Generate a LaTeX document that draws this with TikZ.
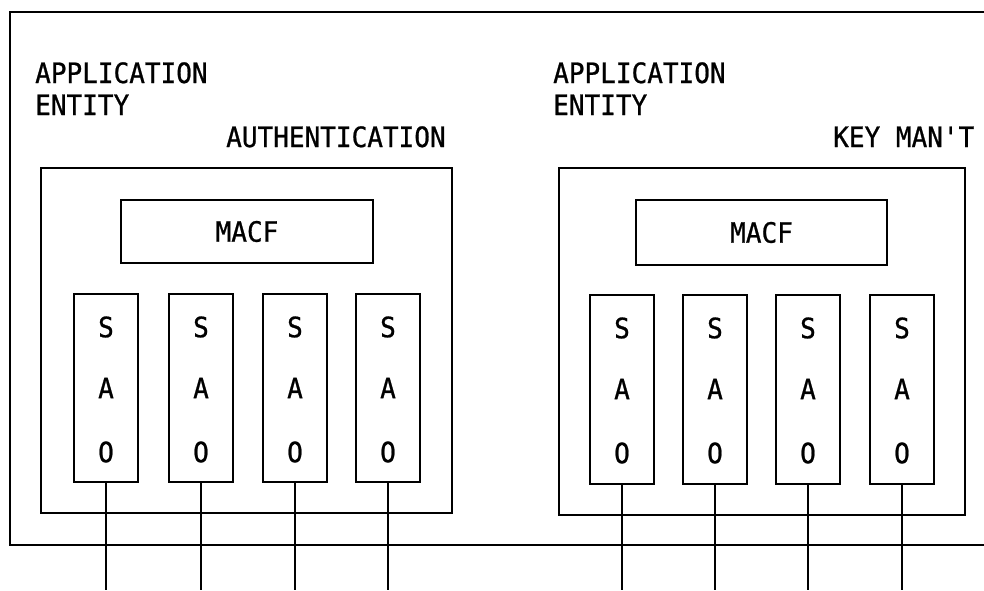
\documentclass[tikz,border=0pt]{standalone}
\usepackage{fontspec}
\setmonofont[FakeStretch=0.93,FakeBold=0.8]{DejaVu Sans Mono}
\begin{document}
\begin{tikzpicture}[x=1pt,y=-1pt,
  lw/.style={line width=2.8pt},
  boxa/.style={draw,lw,inner sep=0pt},
  lbl/.style={font=\ttfamily\fontsize{28}{28}\selectfont,inner sep=0pt,anchor=base west},
  ltr/.style={font=\ttfamily\fontsize{28}{28}\selectfont,inner sep=0pt},
  wire/.style={lw}]
\useasboundingbox (0,0) rectangle (984,590);
% outer frame
\coordinate (otr) at (984,12);
\coordinate (otl) at (10,12);
\coordinate (obl) at (10,545);
\coordinate (obr) at (984,545);
\draw[lw] (otr) -- (otl) -- (obl) -- (obr);
% labels
\node[lbl] (app1) at (35,83) {APPLICATION};
\node[lbl] (ent1) at (35,115) {ENTITY};
\node[lbl] (auth) at (226,147) {AUTHENTICATION};
\node[lbl] (app2) at (553,83) {APPLICATION};
\node[lbl] (ent2) at (553,115) {ENTITY};
\node[lbl] (key) at (833,147) {KEY MAN'T};
% inner boxes
\node[boxa,minimum width=411pt,minimum height=345pt] (ib1) at (246.5,340.5) {};
\node[boxa,minimum width=406pt,minimum height=347pt] (ib2) at (762,341.5) {};
% MACF
\node[boxa,minimum width=252pt,minimum height=63pt,ltr] (m1) at (247,231.5) {MACF};
\node[boxa,minimum width=251pt,minimum height=65pt,ltr] (m2) at (761.5,232.5) {MACF};
% SAO boxes
\foreach \i/\x in {1/106,2/201,3/295,4/388}{
  \node[boxa,minimum width=64pt,minimum height=188pt] (sl\i) at (\x,388) {};
  \node[ltr] (sls\i) at (\x,327) {S};
  \node[ltr] (sla\i) at (\x,388) {A};
  \node[ltr] (slo\i) at (\x,452) {O};
  \coordinate (el\i) at (\x,590);
  \draw[wire] (sl\i.south) -- (el\i);
}
\foreach \i/\x in {1/622,2/715,3/808,4/902}{
  \node[boxa,minimum width=64pt,minimum height=189pt] (sr\i) at (\x,389.5) {};
  \node[ltr] (srs\i) at (\x,328) {S};
  \node[ltr] (sra\i) at (\x,389) {A};
  \node[ltr] (sro\i) at (\x,453) {O};
  \coordinate (er\i) at (\x,590);
  \draw[wire] (sr\i.south) -- (er\i);
}
\end{tikzpicture}
\end{document}
